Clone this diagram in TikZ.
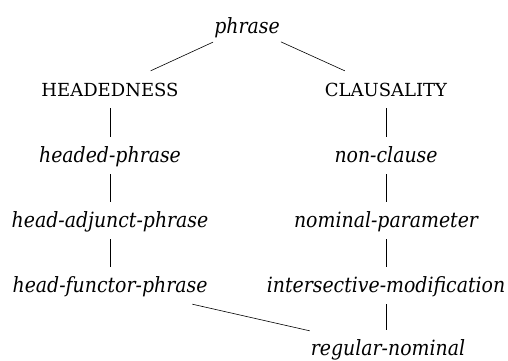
\documentclass[tikz,border=0pt]{standalone}
\usepackage{fontspec}
\setmainfont{DejaVu Serif Condensed}
\newfontfamily\capsfont{DejaVu Serif}
\begin{document}
\begin{tikzpicture}[x=1pt,y=-1pt,
  typ/.style={anchor=base,inner sep=0pt,inner xsep=1pt,text height=25pt,text depth=12pt,
    font=\fontsize{21}{23}\selectfont\itshape},
  feat/.style={anchor=base,inner sep=0pt,inner xsep=1pt,text height=25pt,text depth=12pt,
    font=\fontsize{18}{20}\capsfont},
  edge/.style={line width=0.6pt}]
\useasboundingbox (0,0) rectangle (508,360);
% type hierarchy
\node[typ]  (phrase) at (247,33)  {phrase};
\node[feat] (hd)     at (110,96)  {HEADEDNESS};
\node[feat] (cl)     at (386,96)  {CLAUSALITY};
\node[typ]  (hph)    at (110,162) {headed-phrase};
\node[typ]  (ncl)    at (386,162) {non-clause};
\node[typ]  (hadj)   at (110,227) {head-adjunct-phrase};
\node[typ]  (npar)   at (386,227) {nominal-parameter};
\node[typ]  (hfun)   at (110,292) {head-functor-phrase};
\node[typ]  (imod)   at (386,292) {intersective-modification};
\node[typ]  (reg)    at (388,355) {regular-nominal};
\draw[edge] (phrase) -- (hd);
\draw[edge] (phrase) -- (cl);
\draw[edge] (hd) -- (hph);
\draw[edge] (hph) -- (hadj);
\draw[edge] (hadj) -- (hfun);
\draw[edge] (cl) -- (ncl);
\draw[edge] (ncl) -- (npar);
\draw[edge] (npar) -- (imod);
\draw[edge] (imod.south) -- (reg.north -| imod.south);
\draw[edge] (hfun) -- (reg);
\end{tikzpicture}
\end{document}
